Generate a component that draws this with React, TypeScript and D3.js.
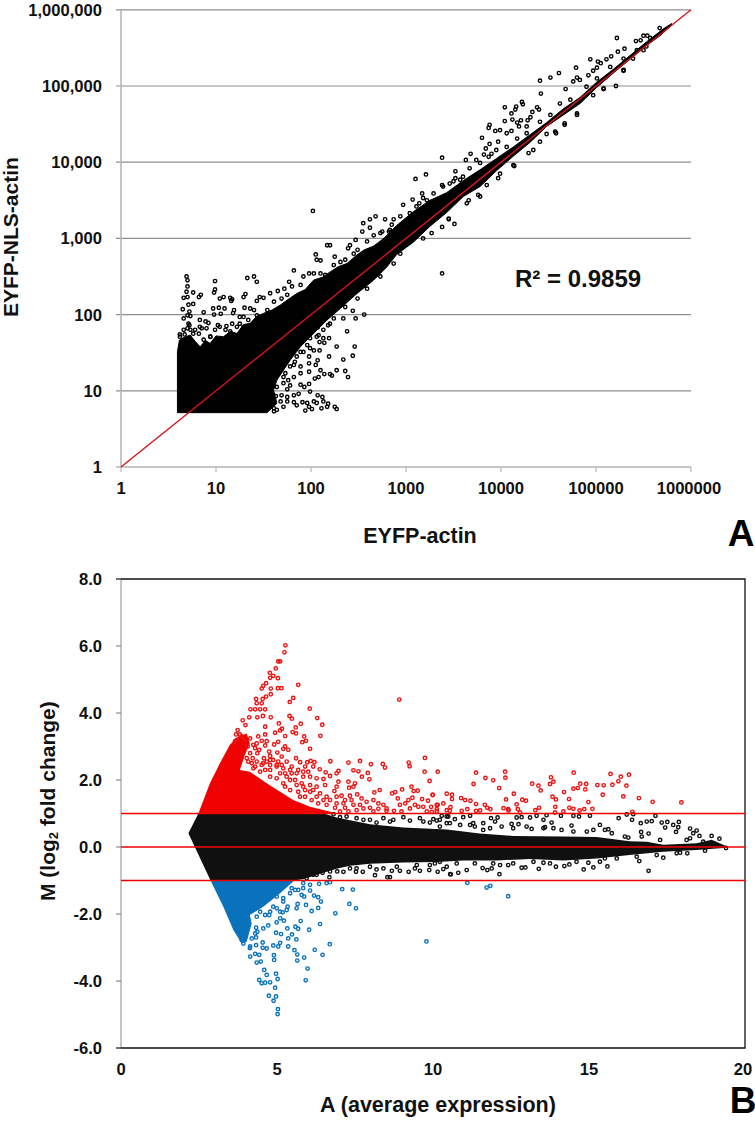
import React from "react";
import * as d3 from "d3";

type P = [number, number];

// Panel A: values are read as log10(EYFP-actin), log10(EYFP-NLS-actin)
const scatterTicks = [1, 10, 100, 1000, 10000, 100000, 1000000];
const scatterXLabels = ["1", "10", "100", "1000", "10000", "100000", "1000000"];
const scatterYLabels = ["1", "10", "100", "1,000", "10,000", "100,000", "1,000,000"];
const fitLine: P[] = [[1, 1], [1000000, 1000000]];

const denseCloudLog: P[] = [
  [.594,.713],[.594,1.513],[.615,1.666],[.66,1.7],[.728,1.732],[.78,1.65],[.833,1.578],[.89,1.66],[.938,1.622],[1.0,1.72],[1.079,1.71],[1.15,1.78],[1.22,1.753],[1.29,1.87],[1.36,1.885],[1.43,1.98],[1.5,2.016],[1.59,2.06],[1.677,2.125],[1.76,2.2],[1.852,2.278],[1.94,2.33],[2.028,2.453],[2.12,2.49],[2.204,2.562],[2.29,2.63],[2.38,2.672],[2.47,2.77],[2.555,2.846],[2.66,2.9],[2.766,3.0],[2.902,3.17],
  [3.077,3.35],[3.253,3.50],[3.428,3.60],[3.604,3.76],[3.779,3.90],[3.954,4.05],[4.13,4.20],[4.305,4.36],[4.481,4.52],[4.656,4.70],[4.832,4.85],[5.007,5.05],[5.183,5.22],[5.358,5.40],[5.533,5.58],[5.709,5.75],[5.797,5.82],
  [5.797,5.80],[5.674,5.66],[5.533,5.53],[5.358,5.35],[5.183,5.17],[5.007,4.98],[4.832,4.77],[4.656,4.62],[4.481,4.47],[4.305,4.26],[4.13,4.08],[3.954,3.89],[3.779,3.68],[3.604,3.55],[3.428,3.34],[3.253,3.16],[3.077,2.95],[2.902,2.79],
  [2.8,2.628],[2.66,2.453],[2.485,2.278],[2.309,2.081],[2.169,1.928],[2.028,1.753],[1.888,1.578],[1.782,1.404],[1.641,1.141],[1.606,1.01],[1.641,.835],[1.536,.713],
];

const upperLeftLog: P[] = [
  [.69,2.50],[.70,2.45],[.99,2.44],[1.33,2.48],[1.40,2.50],[1.43,2.43],[.70,2.37],[.69,2.30],[.76,2.29],[.84,2.26],[.82,2.23],[.99,2.33],[.98,2.29],[.66,2.22],[.70,2.23],[1.04,2.21],[1.08,2.23],[1.15,2.22],[1.17,2.20],[1.16,2.18],[1.29,2.23],[1.31,2.27],[1.46,2.23],[1.43,2.18],[1.50,2.22],[1.57,2.28],[1.65,2.31],[1.72,2.34],[1.77,2.43],[1.82,2.58],[2.05,2.79],[2.06,2.72],[2.10,2.71],[2.17,2.91],[2.20,2.91],[2.25,2.76],[2.39,2.87],[2.41,2.91],[2.47,2.98],[2.54,3.09],
  [.76,2.14],[.71,2.13],[.65,2.07],[.97,2.08],[1.03,2.09],[1.09,2.08],[.87,2.03],[.98,2.00],[1.05,2.01],[1.19,2.06],[1.18,2.02],[1.30,2.09],[1.36,2.08],[1.40,2.06],[1.25,1.97],[1.29,1.97],[.72,2.04],[.70,1.99],[.66,1.95],[.73,1.98],[.72,1.86],[.70,1.82],[.83,1.93],[.89,1.91],[.92,1.89],[.85,1.82],[1.02,1.86],[1.11,1.85],[1.17,1.88],[.62,1.74],[.67,1.74],[.76,1.75],[.82,1.75],[.90,1.82],[1.25,1.88],[.94,1.71],
  [2.02,3.36],[2.55,3.2],[2.62,3.25],[2.68,3.29],[2.62,3.14],
];

const upperBandLog: P[] = [
  [5.22,5.63],[5.50,5.66],[5.54,5.66],[5.42,5.59],[5.47,5.60],[5.30,5.49],[5.23,5.45],[5.16,5.39],[5.11,5.35],[4.94,5.35],[5.02,5.32],[5.05,5.30],[5.01,5.24],[4.97,5.20],[4.92,5.14],[4.79,5.24],[4.61,5.17],[4.52,5.11],[4.41,5.07],[4.80,5.11],[4.76,5.06],[4.83,5.08],[4.68,4.96],[4.42,4.90],[5.21,5.00],[4.22,4.79],[4.23,4.76],[4.04,4.72],[4.16,4.73],[4.11,4.64],[4.15,4.69],[4.38,4.72],[4.40,4.69],[4.33,4.66],[4.31,4.59],[4.12,4.56],[4.21,4.55],[4.04,4.54],[4.17,4.52],[4.19,4.47],[3.88,4.49],[3.87,4.45],[3.94,4.41],[3.99,4.42],[4.06,4.38],[4.11,4.41],[4.27,4.47],[4.28,4.55],[3.80,4.32],[3.88,4.24],[3.97,4.27],[3.84,4.18],[3.68,4.11],[3.38,4.06],[3.63,4.03],[3.74,4.03],[3.82,4.10],[3.90,4.11],[3.52,3.88],[3.21,3.84],[3.10,3.78],[3.52,3.79],[3.38,3.70],[3.46,3.72],[3.57,3.77],[3.17,3.59],[3.07,3.51],[3.18,3.53],[3.14,3.46],[2.97,3.44],[2.78,3.25],[2.87,3.25],[2.75,3.09],[2.85,3.18],
];

const lowerBandLog: P[] = [
  [3.38,2.54],[3.51,3.19],[3.45,3.25],[3.78,3.55],[3.66,3.50],[3.99,3.85],[4.14,3.95],[4.58,4.38],[4.67,4.49],[4.80,4.62],[4.48,4.37],[4.34,4.16],[5.08,4.96],[5.29,5.20],[5.50,5.47],
];

const lowerRightLog: P[] = [
  [2.34,1.95],[2.47,1.95],[2.56,2.00],[2.44,2.05],[2.38,1.78],[2.46,1.58],[2.27,1.58],[2.44,1.46],[2.34,1.41],[2.19,1.45],[2.13,1.69],[2.19,1.69],[2.14,1.63],[2.09,1.64],[2.08,1.73],[2.07,1.83],[2.18,1.86],[2.09,1.53],[2.03,1.53],[1.99,1.56],[1.98,1.45],[1.92,1.51],[1.85,1.45],[2.07,1.40],[2.05,1.34],[1.98,1.36],[1.89,1.32],[1.82,1.34],[2.10,1.27],[2.27,1.27],[2.36,1.26],[2.39,1.18],[2.20,1.22],[2.14,1.22],[2.22,1.20],[2.08,1.18],[2.04,1.16],[1.98,1.25],[1.89,1.23],[1.82,1.18],[1.76,1.14],[1.71,1.18],[1.89,1.08],[1.98,1.09],[1.93,1.05],[1.78,1.07],[1.75,1.02],[1.99,.99],[1.87,.96],[1.82,.94],[1.69,.94],[1.63,.93],[2.07,.94],[2.12,.92],[2.03,.86],[1.91,.85],[1.82,.85],[1.96,.84],[2.06,.84],[2.13,.86],[2.18,.83],[2.17,.79],[2.25,.79],[2.27,.76],[2.11,.77],[2.01,.76],[1.94,.74],[1.75,.86],[1.61,.77],[1.71,.79],[1.85,.81],[1.98,.79],
];

const edgeRingsLog: P[] = [
  [1.29,1.84],[1.34,1.93],[1.43,1.99],[1.54,2.06],[1.61,2.17],[1.69,2.21],[1.75,2.26],[1.80,2.37],[1.89,2.39],[1.92,2.50],[1.98,2.54],[2.03,2.54],[2.10,2.54],[2.15,2.52],[2.24,2.65],[2.31,2.69],[2.36,2.72],[2.45,2.80],[2.49,2.85],[2.59,2.96],[2.66,3.04],[2.73,3.07],[2.82,3.09],[.87,1.67],[.94,1.71],[.99,1.80],[1.04,1.84],[1.10,1.80],[1.15,1.78],[1.22,1.84],[.66,1.80],[.71,1.88],[.78,1.80],[.83,1.84],[.62,1.71],[.73,1.80],
  [2.24,1.95],[2.20,1.88],[2.13,1.80],[2.06,1.71],[1.99,1.69],[1.96,1.60],[1.89,1.51],[1.83,1.38],[1.78,1.32],[1.73,1.23],[1.71,1.10],[1.64,1.05],[1.75,.92],[1.68,.86],[1.64,.75],[1.61,.73],[2.49,2.21],[2.59,2.34],[2.73,2.50],[2.87,2.67],[2.36,2.10],
  [2.83,3.11],[2.94,3.29],[3.04,3.33],[3.11,3.42],[3.22,3.50],[3.29,3.59],[3.39,3.68],[3.50,3.75],[3.60,3.81],[3.67,3.92],[3.78,3.99],[3.87,4.07],[3.95,4.16],[4.06,4.20],[4.17,4.31],[4.27,4.38],[4.41,4.53],[4.52,4.62],[4.62,4.77],[4.73,4.82],[4.90,4.99],[5.01,5.10],[5.15,5.25],[5.29,5.36],[5.43,5.47],[5.57,5.63],[5.67,5.76],
  [2.94,2.80],[3.18,3.00],[3.27,3.07],[3.38,3.15],[3.45,3.26],[3.64,3.46],[3.76,3.57],[3.85,3.70],[3.97,3.79],[4.13,3.96],[4.29,4.12],[4.41,4.27],[4.57,4.40],[4.67,4.51],[4.80,4.64],[4.97,4.88],[5.08,4.97],[5.29,5.21],[5.39,5.36],[5.53,5.52],
];

// Panel B: A (average expression), M (log2 fold change)
const maXTicks = [0, 5, 10, 15, 20];
const maYTicks = [-6, -4, -2, 0, 2, 4, 6, 8];
const maThresholds = [1, 0, -1];

const blackCloud: P[] = [
  [2.16,.41],[2.48,1.0],[6.5,1.0],[6.91,.88],[7.98,.68],[9.05,.58],[10.44,.52],[11.5,.40],[12.57,.33],[14.18,.31],[15.25,.30],[16.3,.17],[16.85,.16],[17.38,.07],[18.45,.11],[18.93,.22],[19.41,.02],[19.41,-.02],[18.45,-.09],[17.38,-.14],[16.3,-.24],[15.25,-.34],[14.18,-.40],[13.11,-.36],[12.04,-.40],[10.97,-.40],[10.12,-.45],[9.05,-.46],[7.98,-.50],[7.34,-.56],[6.91,-.65],[6.38,-.80],[5.84,-.96],[5.5,-1.0],[2.87,-1.0],
];
const redCloud: P[] = [
  [2.48,1.0],[2.85,1.90],[3.17,2.50],[3.49,3.05],[3.76,3.30],[4.03,3.39],[4.13,3.10],[3.97,2.75],[3.81,2.30],[4.13,2.25],[4.67,1.90],[5.10,1.65],[5.52,1.40],[6.06,1.20],[6.81,1.03],[6.81,1.0],
];
const blueCloud: P[] = [
  [2.87,-1.0],[3.28,-1.78],[3.60,-2.48],[3.87,-2.88],[4.03,-2.83],[4.19,-2.28],[4.13,-2.03],[4.56,-1.78],[5.10,-1.38],[5.52,-1.03],[5.52,-1.0],
];

const redPoints: P[] = [
  [5.27,6.02],[5.24,5.81],[5.04,5.54],[5.10,5.54],[4.96,5.33],[4.77,5.20],[4.88,5.11],[4.78,5.05],[5.03,5.04],[4.65,4.89],[4.56,4.81],[4.51,4.73],[4.80,4.73],[5.03,4.74],[5.14,4.74],[5.68,4.84],[4.80,4.56],[4.65,4.49],[4.54,4.42],[5.52,4.45],[5.41,4.33],[4.33,4.42],[4.35,4.29],[4.51,4.29],[4.15,4.11],[4.30,4.11],[4.46,4.11],[4.62,4.11],[6.05,4.13],[4.11,3.87],[4.37,3.87],[4.55,3.91],[4.80,3.87],[5.40,3.91],[5.48,3.83],[6.29,3.85],[3.90,3.78],[5.06,3.69],[5.76,3.68],[6.45,3.65],[3.99,3.64],[4.62,3.59],[5.60,3.57],[5.16,3.53],[5.10,3.48],[3.74,3.49],[4.94,3.41],[5.50,3.43],[5.61,3.39],[6.39,3.32],[3.69,3.36],[3.81,3.36],[5.26,3.31],[5.87,3.30],[4.40,3.30],[4.62,3.36],[4.14,3.24],[4.51,3.17],[4.67,3.16],[5.93,3.17],[5.81,3.13],[5.04,3.14],[4.91,3.06],[4.62,3.03],[5.26,3.0],[5.36,2.90],[5.20,2.93],[6.06,2.93],[4.43,2.90],[4.14,2.80],[4.37,2.80],[4.75,2.85],[5.01,2.82],[4.78,2.72],[5.15,2.70],[5.61,2.65],[4.58,2.65],[4.78,2.60],[5.97,2.53],[6.08,2.57],[6.20,2.53],[6.71,2.56],[7.29,2.52],[7.66,2.57],[8.01,2.47],[8.39,2.48],[8.46,2.37],[9.22,2.52],[9.25,2.41],[9.74,2.66],[9.73,2.25],[10.15,2.25],[9.89,1.97],[8.92,4.40],[5.74,2.53],[5.90,2.40],[6.16,2.40],[6.37,2.32],[6.56,2.23],[6.97,2.27],[6.70,2.12],[7.45,2.29],[7.61,2.26],[7.91,2.21],[7.72,2.10],[7.96,2.02],[6.91,2.20],[6.06,2.10],[6.27,2.05],[6.49,2.03],[6.97,1.95],[7.29,1.95],[7.50,1.90],[7.45,1.80],[7.31,1.77],[6.91,1.80],[6.84,1.67],[8.12,1.63],[8.29,1.70],[8.69,1.60],[8.79,1.64],[9.01,1.72],[9.31,1.80],[9.51,1.68],[9.38,1.67],[9.99,1.56],[10.44,1.59],[9.34,1.47],[9.65,1.43],[9.84,1.38],[9.21,1.40],[8.87,1.45],[9.11,1.30],[10.12,1.26],[9.42,1.26],[8.94,1.26],[8.41,1.26],[8.09,1.40],[7.71,1.45],[7.57,1.57],[7.34,1.53],[7.07,1.53],[7.98,1.17],[7.66,1.26],[8.25,1.14],[8.51,1.08],[8.75,1.08],[9.53,1.20],[9.94,1.20],[10.44,1.10],[10.12,1.06],[9.80,1.06],[8.99,1.06],[8.09,1.06],[7.77,1.15],[7.39,1.40],[7.18,1.40],[6.91,1.30],
  [4.78,2.30],[4.99,2.40],[5.20,2.35],[5.42,2.30],[5.63,2.20],[5.84,2.10],[5.31,2.10],[5.58,2.0],[5.79,1.90],[6.06,1.85],[6.27,1.80],[6.54,1.85],[6.16,1.70],[6.38,1.60],[6.59,1.50],[5.90,1.70],[5.68,1.65],[6.91,1.50],[6.70,1.40],[7.13,1.30],[5.31,2.55],[5.47,2.40],[5.04,2.55],[4.56,2.50],[4.30,2.40],[4.08,2.55],[4.22,2.65],
  [3.97,3.20],[4.24,3.05],[4.06,3.0],[4.35,3.09],[4.30,2.95],[4.03,2.65],[4.19,2.50],[4.35,2.55],[4.51,2.45],[4.67,2.55],[4.88,2.60],[4.99,2.45],[5.15,2.45],[4.78,2.45],[4.62,2.30],[4.46,2.25],[4.24,2.35],[5.10,2.20],[5.26,2.20],[5.47,2.20],[5.68,2.30],[5.84,2.25],[6.00,2.25],[5.42,2.0],[5.20,1.90],[4.99,2.05],[4.78,2.10],[5.63,1.85],[5.84,1.80],[6.06,1.65],[6.27,1.50],[6.49,1.40],[5.90,1.50],[5.74,1.50],[5.42,1.70],[5.26,1.80],[6.11,1.40],[6.32,1.30],[6.59,1.26],[6.86,1.17],[7.18,1.17],[7.45,1.26],[7.55,1.10],[7.29,1.06],[7.02,1.06],[7.87,1.35],[8.25,1.30],[8.51,1.15],[9.26,1.15],[9.69,1.20],[10.33,1.30],[3.71,3.20],[3.87,3.30],[3.65,3.15],
  [11.38,2.22],[12.31,2.25],[12.32,2.07],[11.68,2.06],[11.30,1.88],[11.93,1.99],[12.12,1.76],[13.18,1.89],[13.38,1.83],[13.45,1.69],[13.78,2.08],[13.86,1.95],[13.75,1.88],[14.51,2.22],[14.50,1.74],[14.64,1.76],[14.72,1.89],[14.91,1.88],[14.88,1.72],[14.20,1.64],[15.27,1.85],[15.47,1.84],[15.44,1.56],[15.69,2.18],[15.75,1.86],[15.94,1.96],[16.02,2.10],[16.28,2.16],[16.20,1.83],[16.10,1.51],[16.60,1.46],[17.04,1.35],[17.96,1.33],[14.98,1.34],[14.36,1.43],[13.83,1.50],[13.94,1.42],[12.86,1.41],[12.98,1.38],[12.68,1.27],[12.59,1.59],[12.34,1.42],[10.61,1.56],[10.61,1.43],[9.99,1.55],[10.90,1.46],[11.03,1.40],[11.20,1.38],[11.38,1.28],[11.66,1.26],[11.74,1.17],[11.84,1.13],[12.26,1.16],[12.41,1.13],[12.72,1.13],[13.40,1.17],[13.28,1.10],[13.92,1.20],[14.37,1.17],[14.50,1.14],[14.85,1.13],[15.11,1.14],[14.70,1.09],[14.18,1.06],[13.91,1.03],[12.79,1.03],[12.42,1.09],[11.51,1.09],[11.38,1.08],[11.10,1.13],[10.92,1.08],[10.54,1.08],[10.15,1.26],[10.12,1.13],[9.96,1.05],[10.56,1.19],[16.39,1.05],
];

const bluePoints: P[] = [
  [5.02,-4.99],[5.03,-4.84],[4.89,-4.59],[4.97,-4.46],[4.74,-4.44],[4.94,-4.20],[5.92,-3.98],[5.02,-3.94],[4.97,-3.78],[5.98,-3.63],[4.43,-3.97],[4.51,-4.07],[4.62,-4.05],[4.78,-4.04],[4.67,-3.82],[4.59,-3.67],[4.48,-3.42],[4.35,-3.45],[4.14,-3.27],[4.30,-3.19],[4.43,-3.22],[4.91,-3.37],[4.90,-3.23],[5.65,-3.39],[5.87,-3.30],[6.46,-3.22],[5.65,-3.21],[5.56,-3.08],[6.21,-3.07],[6.69,-2.90],[5.36,-2.97],[5.10,-2.86],[5.04,-2.97],[4.88,-2.94],[4.67,-3.03],[4.54,-2.85],[4.54,-3.01],[4.13,-3.02],[4.33,-2.93],[5.36,-2.73],[5.62,-2.76],[5.48,-2.61],[5.13,-2.60],[4.97,-2.56],[6.03,-2.47],[5.33,-2.43],[5.59,-2.38],[5.68,-2.44],[6.38,-2.30],[5.76,-2.21],[4.56,-2.43],[4.72,-2.34],[4.99,-2.25],[5.22,-2.20],[5.10,-2.13],[4.33,-2.41],[4.37,-2.53],[4.33,-2.70],[6.87,-1.98],[6.11,-1.91],[7.53,-1.83],[7.32,-1.70],[6.32,-1.82],[5.63,-1.83],[5.34,-1.78],[5.93,-1.73],[5.66,-1.70],[6.41,-1.63],[6.32,-1.50],[6.19,-1.45],[5.87,-1.48],[7.09,-1.26],[7.43,-1.27],[6.06,-1.30],[5.84,-1.23],[6.35,-1.10],[6.59,-1.08],[6.70,-1.05],[6.06,-1.13],[9.79,-2.82],[11.10,-1.07],[5.18,-1.95],[4.78,-1.93],[4.99,-1.83],[4.75,-2.03],[5.20,-1.53],[5.42,-1.38],[5.58,-1.28],[5.79,-1.43],
  [11.72,-1.21],[11.84,-1.16],[12.41,-1.47],
  [3.87,-2.78],[3.92,-2.88],[4.14,-2.97],[4.19,-2.73],[4.30,-2.58],[4.35,-2.08],[4.46,-1.93],[4.62,-2.03],[4.88,-1.78],[5.20,-1.63],[5.31,-1.88],[5.10,-1.93],[5.47,-1.23],[5.68,-1.28],[5.84,-1.08],[4.56,-1.68],[4.78,-1.53],[4.99,-1.48],
];

const blackPoints: P[] = [
  [10.01,.83],[10.28,.93],[10.49,.91],[10.70,.83],[10.97,.89],[11.19,.93],[11.29,.71],[11.61,.71],[11.86,.86],[12.07,.88],[11.99,.76],[12.68,.88],[12.84,.89],[13.11,.88],[13.32,.93],[13.64,.95],[13.54,.81],[13.80,.73],[14.10,.93],[14.50,.93],[14.68,.91],[15.03,.93],[15.95,.86],[16.21,.97],[16.42,.98],[16.38,.81],[16.66,.71],[16.85,.76],[17.01,.77],[17.13,.93],[17.33,.73],[17.51,.75],[17.70,.66],[17.88,.75],[17.86,.59],[17.44,.58],[18.24,.55],[18.45,.49],[18.34,.41],[18.54,.33],[18.24,.26],[18.93,.33],[19.18,.25],[17.79,.45],[16.91,.40],[16.67,.45],[16.26,.28],[15.51,.51],[15.62,.53],[15.35,.66],[15.14,.51],[14.44,.64],[13.86,.56],[13.59,.59],[13.16,.54],[12.74,.68],[12.52,.69],[11.61,.51],[11.19,.66],[10.22,.61],
  [10.06,-.49],[10.44,-.59],[10.55,-.81],[10.81,-.77],[11.08,-.69],[11.59,-.63],[11.74,-.69],[11.88,-.64],[12.15,-.54],[12.13,-.81],[12.41,-.54],[12.84,-.62],[12.96,-.61],[13.39,-.65],[13.54,-.47],[13.94,-.59],[14.21,-.57],[14.37,-.52],[14.83,-.67],[14.98,-.47],[15.14,-.61],[15.59,-.58],[15.51,-.34],[16.61,-.42],[16.91,-.71],[17.38,-.32],[17.81,-.19],[18.15,-.19],[18.72,-.11],[19.39,-.03],
  [8.14,-.84],[8.54,-.90],[8.62,-.90],[8.68,-.71],[8.94,-.71],[9.22,-.74],[9.42,-.64],[9.58,-.71],[9.88,-.69],[10.15,-.74],[10.57,-.82],[10.33,-.66],[8.19,-.67],[7.75,-.74],[7.53,-.74],[6.93,-.73],[6.68,-.90],[6.46,-.77],[6.27,-.83],[7.34,-.64],
  [7.55,.86],[7.98,.81],[8.41,.86],[8.73,.81],[9.05,.89],[9.58,.86],[9.9,.73],[10.22,.81],[10.44,.91],
  [7.02,.89],[7.23,.91],[7.77,.81],[8.19,.73],[8.62,.76],[9.26,.79],[9.69,.76],[10.12,.79],[10.44,.71],[6.81,.98],
  [10.54,.71],[10.87,.66],[11.34,.61],[11.83,.56],[12.2,.61],[12.57,.56],[13.0,.61],[13.54,.56],[14.12,.51],[14.5,.46],[14.93,.46],[15.73,.41],[16.15,.31],[16.69,.31],[17.28,.21],[18.13,.21],[18.66,.16],
  [10.22,-.44],[10.76,-.49],[11.34,-.49],[11.93,-.49],[12.57,-.49],[13.22,-.44],[13.75,-.49],[14.6,-.44],[15.35,-.44],[15.89,-.34],[16.53,-.29],[17.17,-.24],[17.92,-.17],
  [7.55,-.64],[7.98,-.59],[8.41,-.64],[8.84,-.59],[9.48,-.54],[9.9,-.54],[7.13,-.74],[6.70,-.73],[6.16,-.83],[5.95,-.93],
];

const FONT = "'Liberation Sans', Arial, sans-serif";
const BLUE = "#0a72bd";
const RED = "#f00000";

const xA = d3.scaleLog().domain([1, 1000000]).range([121, 691]);
const yA = d3.scaleLog().domain([1, 1000000]).range([467, 9.8]);
const xB = d3.scaleLinear().domain([0, 20]).range([121, 745]);
const yB = d3.scaleLinear().domain([-6, 8]).range([1048, 579]);

const pow = ([a, b]: P): P => [10 ** a, 10 ** b];
const lineA = d3.line<P>().x((d) => xA(d[0])).y((d) => yA(d[1]));
const lineB = d3.line<P>().x((d) => xB(d[0])).y((d) => yB(d[1]));

function Rings({ pts, sx, sy, color }: { pts: P[]; sx: (v: number) => number; sy: (v: number) => number; color: string }) {
  return (
    <g fill="none" stroke={color} strokeWidth={1.4}>
      {pts.map((d, i) => (
        <circle key={i} cx={sx(d[0])} cy={sy(d[1])} r={1.7} />
      ))}
    </g>
  );
}

export default function App() {
  const aPoints = [...upperLeftLog, ...upperBandLog, ...lowerBandLog, ...lowerRightLog, ...edgeRingsLog].map(pow);
  const axisGrey = "#b7b7b7";
  const gridGrey = "#8e8e8e";
  const tick = { fontSize: 16.6, fontWeight: 700, fill: "#111" };
  return (
    <svg
      width={755}
      height={1122}
      viewBox="0 0 755 1122"
      style={{ position: "absolute", left: 0, top: 0, background: "#fff" }}
      fontFamily={FONT}
    >
      {/* Panel A */}
      {scatterTicks.map((t, i) => (
        <g key={t}>
          <line x1={116} x2={691} y1={yA(t)} y2={yA(t)} stroke={gridGrey} strokeWidth={1.2} />
          <line x1={xA(t)} x2={xA(t)} y1={467} y2={472} stroke={axisGrey} strokeWidth={1.2} />
          <text x={102} y={yA(t) + 6} textAnchor="end" {...tick}>{scatterYLabels[i]}</text>
          <text x={xA(t) - (i === 6 ? 2 : 0)} y={494} textAnchor="middle" {...tick}>{scatterXLabels[i]}</text>
        </g>
      ))}
      <line x1={121} x2={121} y1={9.8} y2={467} stroke={axisGrey} strokeWidth={1.6} />
      <path d={lineA(denseCloudLog.map(pow)) + "Z"} fill="#000" stroke="#000" strokeWidth={1} strokeLinejoin="round" />
      <Rings pts={aPoints} sx={xA} sy={yA} color="#000" />
      <path d={lineA(fitLine) as string} stroke="#d4161c" strokeWidth={1.4} fill="none" />
      <text x={515} y={287} fontSize={24} fontWeight={700} fill="#111">R² = 0.9859</text>
      <text x={420} y={543} textAnchor="middle" fontSize={21.5} fontWeight={700} fill="#111">EYFP-actin</text>
      <text transform="translate(18,317) rotate(-90)" fontSize={21} fontWeight={700} fill="#111">EYFP-NLS-actin</text>
      <text x={741} y={546} textAnchor="middle" fontSize={37} fontWeight={700} fill="#000">A</text>

      {/* Panel B */}
      <line x1={121} x2={121} y1={579} y2={1048} stroke={axisGrey} strokeWidth={1.6} />
      <path d={`M116,${yB(8)}H${xB(20)}V${yB(-6)}H116`} fill="none" stroke="#111" strokeWidth={1.3} />
      {maYTicks.map((t) => (
        <g key={t}>
          <line x1={116} x2={121} y1={yB(t)} y2={yB(t)} stroke="#8a8a8a" strokeWidth={1.2} />
          <text x={102} y={yB(t) + 6} textAnchor="end" {...tick}>{t.toFixed(1)}</text>
        </g>
      ))}
      {maXTicks.map((t) => (
        <text key={t} x={xB(t) - (t === 20 ? 2 : 0)} y={1075} textAnchor="middle" {...tick}>{t}</text>
      ))}
      <path d={lineB(blackCloud) + "Z"} fill="#101010" />
      <Rings pts={blackPoints} sx={xB} sy={yB} color="#101010" />
      <path d={lineB(redCloud) + "Z"} fill={RED} />
      <Rings pts={redPoints} sx={xB} sy={yB} color="#ee1111" />
      <path d={lineB(blueCloud) + "Z"} fill={BLUE} />
      <Rings pts={bluePoints} sx={xB} sy={yB} color={BLUE} />
      {maThresholds.map((t) => (
        <line key={t} x1={121} x2={745} y1={yB(t)} y2={yB(t)} stroke="#f00000" strokeWidth={1.4} />
      ))}
      <text x={438} y={1112} textAnchor="middle" fontSize={21.5} fontWeight={700} fill="#111">A (average expression)</text>
      <text transform="translate(55,901) rotate(-90)" fontSize={21} fontWeight={700} fill="#111">
        M (log<tspan fontSize={13} dy={3}>2</tspan><tspan dy={-3}> fold change)</tspan>
      </text>
      <text x={743} y={1113} textAnchor="middle" fontSize={37} fontWeight={700} fill="#000">B</text>
    </svg>
  );
}
